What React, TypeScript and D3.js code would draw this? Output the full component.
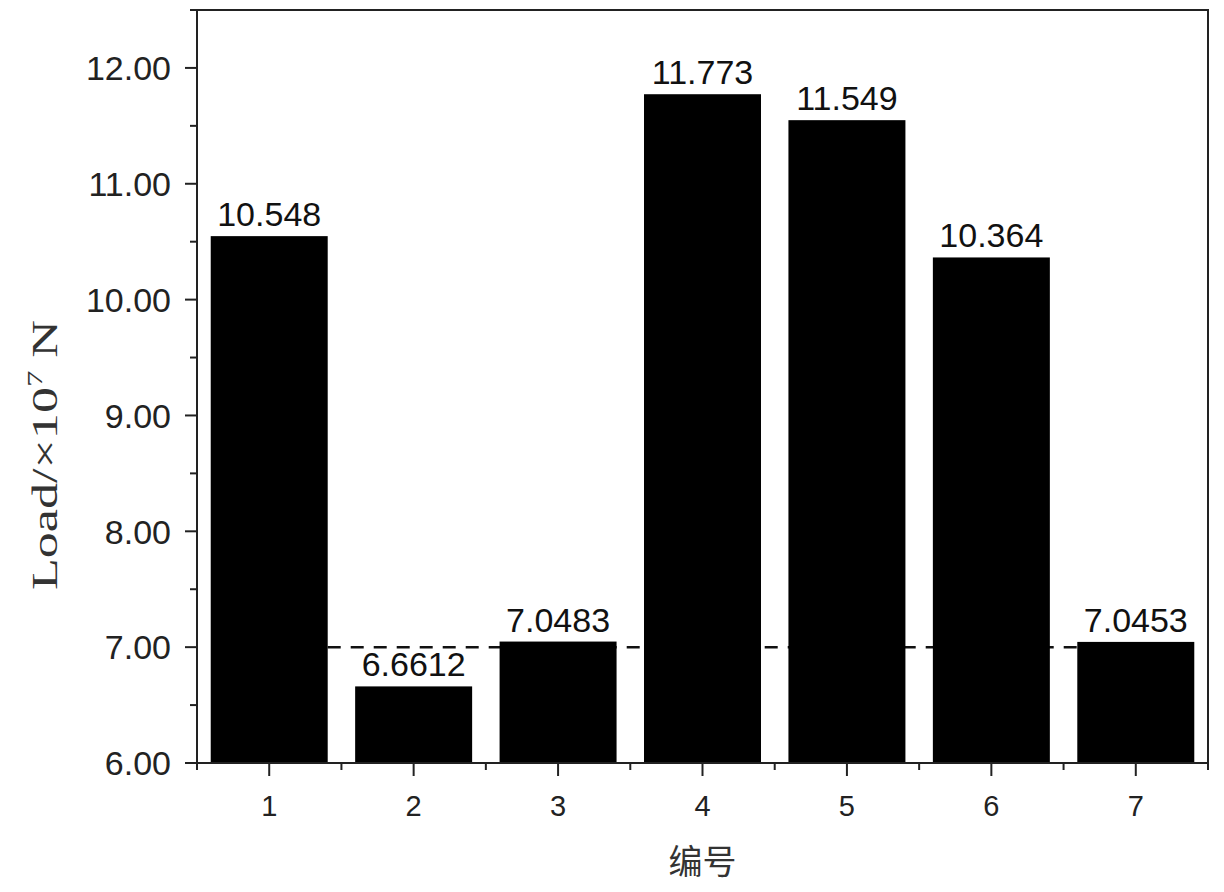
import React, { useEffect, useRef } from "react";
import * as d3 from "d3";

const categories = [1, 2, 3, 4, 5, 6, 7];
const loads = [10.548, 6.6612, 7.0483, 11.773, 11.549, 10.364, 7.0453];
const valueLabels = ["10.548", "6.6612", "7.0483", "11.773", "11.549", "10.364", "7.0453"];
const yTicks = [6, 7, 8, 9, 10, 11, 12];
const yMinorTicks = [6.5, 7.5, 8.5, 9.5, 10.5, 11.5, 12.5];
const xMinorTicks = [0.5, 1.5, 2.5, 3.5, 4.5, 5.5, 6.5, 7.5];
const referenceLevel = 7.0;

const W = 1224;
const H = 892;
const left = 197;
const right = 1208;
const top = 10;
const bottom = 763;

export default function App() {
  const ref = useRef<SVGSVGElement>(null);

  useEffect(() => {
    const svg = d3.select(ref.current);
    svg.selectAll("*").remove();

    const x = d3.scaleLinear().domain([0.5, 7.5]).range([left, right]);
    const y = d3.scaleLinear().domain([6, 12.5]).range([bottom, top]);
    const barW = (x(1) - x(0)) * 0.81;

    const arial = "'Liberation Sans', Arial, sans-serif";

    // dashed reference line (behind bars)
    svg
      .append("line")
      .attr("x1", x(1) + barW / 2)
      .attr("x2", x(7) - barW / 2)
      .attr("y1", y(referenceLevel))
      .attr("y2", y(referenceLevel))
      .attr("stroke", "#111")
      .attr("stroke-width", 2.5)
      .attr("stroke-dasharray", "13,10");

    // bars
    svg
      .selectAll("rect.bar")
      .data(loads)
      .enter()
      .append("rect")
      .attr("class", "bar")
      .attr("x", (d, i) => x(categories[i]) - barW / 2)
      .attr("width", barW)
      .attr("y", (d) => y(d))
      .attr("height", (d) => y(6) - y(d))
      .attr("fill", "#000");

    // value labels
    svg
      .selectAll("text.val")
      .data(loads)
      .enter()
      .append("text")
      .attr("class", "val")
      .attr("x", (d, i) => x(categories[i]))
      .attr("y", (d) => y(d) - 10)
      .attr("text-anchor", "middle")
      .attr("font-family", arial)
      .attr("font-size", 34)
      .attr("fill", "#111")
      .text((d, i) => valueLabels[i]);

    // frame
    const axisColor = "#222";
    svg
      .append("rect")
      .attr("x", left)
      .attr("y", top)
      .attr("width", right - left)
      .attr("height", bottom - top)
      .attr("fill", "none")
      .attr("stroke", axisColor)
      .attr("stroke-width", 2);

    // y ticks
    yTicks.forEach((t) => {
      svg
        .append("line")
        .attr("x1", left - 12)
        .attr("x2", left)
        .attr("y1", y(t))
        .attr("y2", y(t))
        .attr("stroke", axisColor)
        .attr("stroke-width", 2);
      svg
        .append("text")
        .attr("x", left - 26)
        .attr("y", y(t))
        .attr("dy", "0.36em")
        .attr("text-anchor", "end")
        .attr("font-family", arial)
        .attr("font-size", 34)
        .attr("fill", "#222")
        .text(d3.format(".2f")(t));
    });
    yMinorTicks.forEach((t) => {
      svg
        .append("line")
        .attr("x1", left - 7)
        .attr("x2", left)
        .attr("y1", y(t))
        .attr("y2", y(t))
        .attr("stroke", axisColor)
        .attr("stroke-width", 2);
    });

    // x ticks
    categories.forEach((c) => {
      svg
        .append("line")
        .attr("x1", x(c))
        .attr("x2", x(c))
        .attr("y1", bottom)
        .attr("y2", bottom + 13)
        .attr("stroke", axisColor)
        .attr("stroke-width", 2);
      svg
        .append("text")
        .attr("x", x(c))
        .attr("y", 816)
        .attr("text-anchor", "middle")
        .attr("font-family", arial)
        .attr("font-size", 29)
        .attr("fill", "#222")
        .text(String(c));
    });
    xMinorTicks.forEach((c) => {
      svg
        .append("line")
        .attr("x1", x(c))
        .attr("x2", x(c))
        .attr("y1", bottom)
        .attr("y2", bottom + 7)
        .attr("stroke", axisColor)
        .attr("stroke-width", 2);
    });

    // x axis title
    svg
      .append("text")
      .attr("x", (left + right) / 2)
      .attr("y", 874)
      .attr("text-anchor", "middle")
      .attr("font-family", "'Noto Sans CJK SC', sans-serif")
      .attr("font-size", 34)
      .attr("fill", "#333")
      .text("编号");

    // y axis title
    const yt = svg
      .append("text")
      .attr("transform", `translate(57, ${455}) rotate(-90)`)
      .attr("text-anchor", "middle")
      .attr("font-family", "'Liberation Serif', 'Times New Roman', serif")
      .attr("font-size", 35)
      .attr("fill", "#333")
      .attr("textLength", 270)
      .attr("lengthAdjust", "spacingAndGlyphs");
    yt.append("tspan").text("Load/×10");
    yt.append("tspan").attr("dy", -15).attr("font-size", 22).text("7");
    yt.append("tspan").attr("dy", 15).text(" N");
  }, []);

  return (
    <svg
      ref={ref}
      width={W}
      height={H}
      style={{ position: "absolute", left: 0, top: 0, background: "#fff" }}
    />
  );
}
